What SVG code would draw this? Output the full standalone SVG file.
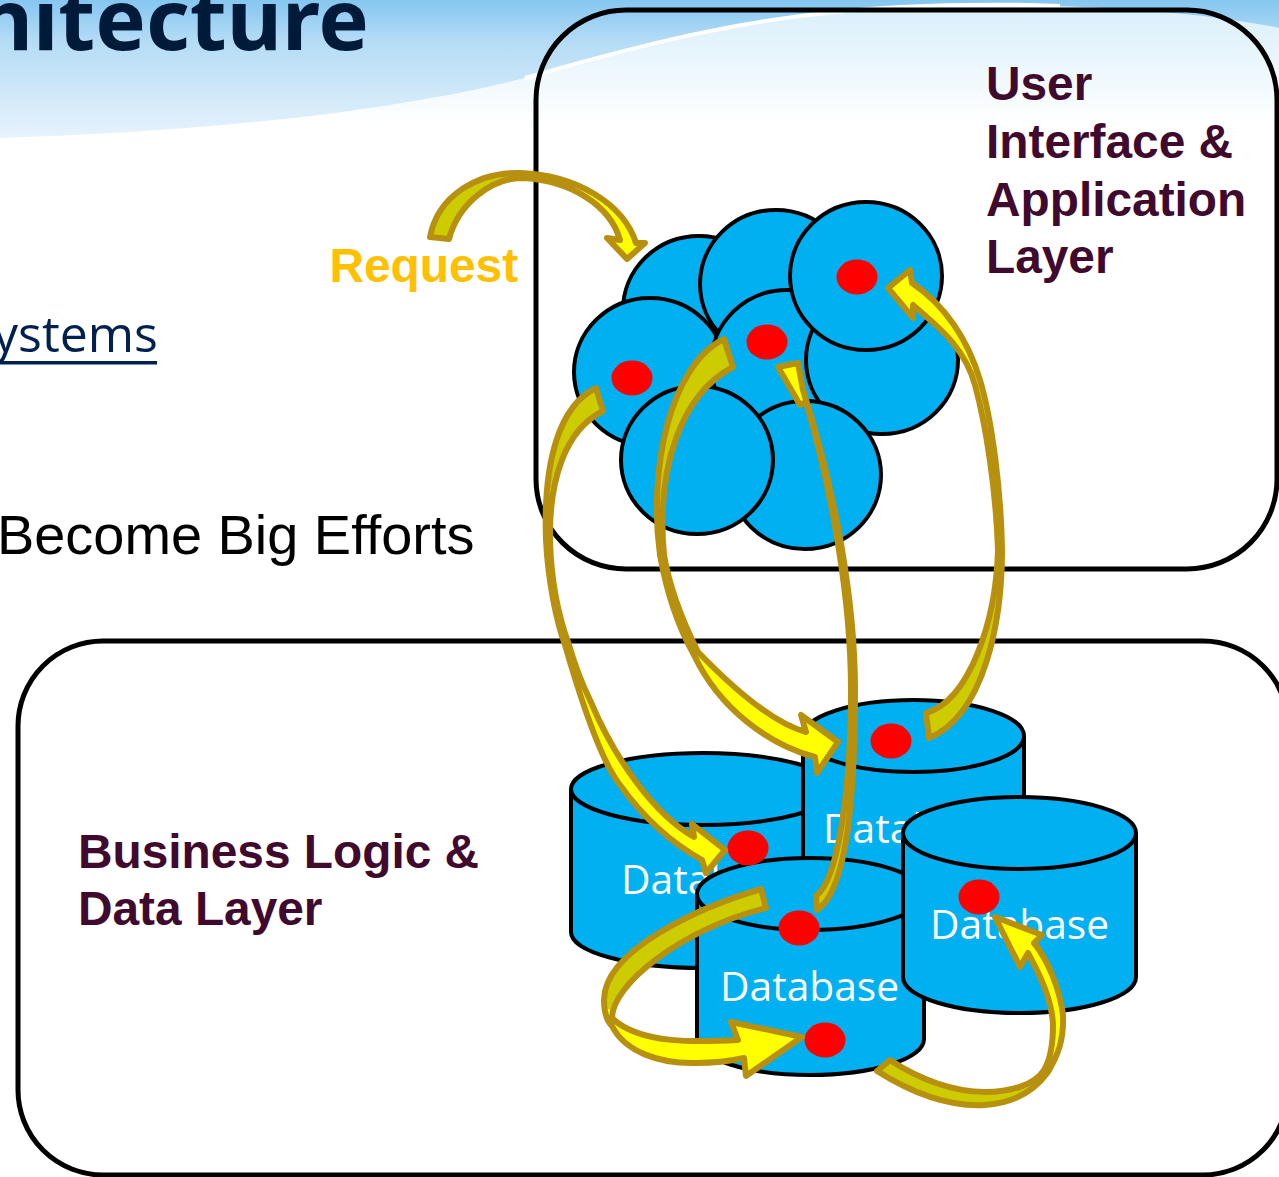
<svg xmlns="http://www.w3.org/2000/svg" width="1279" height="1177" viewBox="0 0 1279 1177">
<style>
.box{fill:none;stroke:#000;stroke-width:5}
.c{fill:#00b0f0;stroke:#000;stroke-width:4}
.dot{fill:#f00}
.t{font-family:"Liberation Sans",Arial,sans-serif;font-weight:700;font-size:47.8px;fill:#3f0a2e}
.db{font-family:"Open Sans","Noto Sans",sans-serif;font-size:40px;fill:#fff}
.arrow{stroke:#b8900f;stroke-width:6;stroke-linejoin:round}
</style>
<defs>
<linearGradient id="sky" gradientUnits="userSpaceOnUse" x1="0" y1="0" x2="0" y2="138"><stop offset="0" stop-color="#85c6f0"/><stop offset="0.3" stop-color="#b5dcf6"/><stop offset="1" stop-color="#e6f3fc"/></linearGradient>
<linearGradient id="glow" gradientUnits="userSpaceOnUse" x1="0" y1="15" x2="0" y2="125"><stop offset="0" stop-color="#dcf0fb"/><stop offset="1" stop-color="#ffffff"/></linearGradient>
<linearGradient id="a1" x1="0" y1="0" x2="1" y2="0"><stop offset="0.47" stop-color="#cccc00"/><stop offset="0.47" stop-color="#ffff00"/></linearGradient>
<linearGradient id="a2" x1="0" y1="0" x2="0" y2="1"><stop offset="0.5" stop-color="#cccc00"/><stop offset="0.5" stop-color="#ffff00"/></linearGradient>
<linearGradient id="a4" x1="0" y1="0" x2="0" y2="1"><stop offset="0.5" stop-color="#ffff00"/><stop offset="0.5" stop-color="#cccc00"/></linearGradient>
<linearGradient id="a6" x1="0" y1="0" x2="0" y2="1"><stop offset="0.64" stop-color="#cccc00"/><stop offset="0.64" stop-color="#ffff00"/></linearGradient>
<linearGradient id="a7" gradientUnits="userSpaceOnUse" x1="1048" y1="1072" x2="996" y2="1220"><stop offset="0" stop-color="#ffff00"/><stop offset="0" stop-color="#cccc00"/></linearGradient>
</defs>
<rect width="1279" height="1177" fill="#fff"/>
<path d="M0 138C250 130 420 105 525 78C650 42 760 14 900 7C1050 2 1180 8 1279 28V135H0Z" fill="url(#glow)"/>
<path d="M0 0H1279V28C1180 8 1050 2 900 7C760 14 650 42 525 78C420 105 250 130 0 138Z" fill="url(#sky)"/>
<path d="M525 78C650 42 760 14 900 7C960 4 1010 4 1060 6" fill="none" stroke="#fff" stroke-width="4"/>
<text x="369" y="50" text-anchor="end" font-family="'Noto Sans','Open Sans',sans-serif" font-weight="700" font-size="85" fill="#001a3a">hitecture</text>
<text x="-7" y="352" font-family="'Open Sans','Noto Sans',sans-serif" font-size="50" fill="#002050">ystems</text>
<rect x="0" y="361" width="157" height="3.500" fill="#002050"/>
<text x="-3" y="554" font-family="'Liberation Sans',Arial,sans-serif" font-size="55.900" fill="#000">Become Big Efforts</text>

<g id="ui-layer"><rect class="box" x="536" y="10" width="741" height="559" rx="90" ry="90"/>
<text class="t" x="986" y="100">User</text><text class="t" x="986" y="158">Interface &amp;</text><text class="t" x="986" y="216">Application</text><text class="t" x="986" y="273">Layer</text></g>
<g id="data-layer"><rect class="box" x="18" y="641" width="1270" height="534" rx="85" ry="85"/>
<text class="t" x="78" y="868">Business Logic &amp;</text><text class="t" x="78" y="925">Data Layer</text></g>
<text id="request" x="329.500" y="282" font-family="'Liberation Sans',Arial,sans-serif" font-weight="700" font-size="47.800" fill="#ffc000">Request</text>

<g id="server-1"><ellipse class="c" cx="699" cy="310" rx="76" ry="74"/></g>
<g id="server-2"><ellipse class="c" cx="776" cy="284" rx="76" ry="74"/></g>
<g id="server-3"><ellipse class="c" cx="650" cy="372" rx="76" ry="74"/></g>
<g id="server-4"><ellipse class="c" cx="787" cy="364" rx="76" ry="74"/></g>
<g id="server-5"><ellipse class="c" cx="882" cy="360" rx="76" ry="74"/></g>
<g id="server-6"><ellipse class="c" cx="866" cy="276" rx="76" ry="74"/></g>
<g id="server-7"><ellipse class="c" cx="805" cy="475" rx="76" ry="74"/></g>
<g id="server-8"><ellipse class="c" cx="697" cy="460" rx="76" ry="74"/></g>

<g id="db-left"><path class="c" d="M571 789V932C571 952 630 968 703 968S835 952 835 932V789"/><ellipse class="c" cx="703" cy="789" rx="132" ry="36"/><text class="db" x="621" y="894" textLength="179" lengthAdjust="spacingAndGlyphs">Database</text></g>
<g id="db-back"><path class="c" d="M803 736V880C803 900 852 916 913 916S1024 900 1024 880V736"/><ellipse class="c" cx="913.500" cy="736" rx="110.500" ry="36"/><text class="db" x="823" y="843" textLength="179" lengthAdjust="spacingAndGlyphs">Database</text></g>
<g id="db-front"><path class="c" d="M697 894V1039C697 1059 748 1075 810 1075S924 1059 924 1039V894"/><ellipse class="c" cx="810.500" cy="894" rx="113.500" ry="36"/><text class="db" x="720" y="1001" textLength="179" lengthAdjust="spacingAndGlyphs">Database</text></g>
<g id="db-right"><path class="c" d="M903 833V977C903 997 955 1013 1019.500 1013S1136 997 1136 977V833"/><ellipse class="c" cx="1019.500" cy="833" rx="116.500" ry="36"/><text class="db" x="930" y="939" textLength="179" lengthAdjust="spacingAndGlyphs">Database</text></g>

<g id="markers">
<ellipse class="dot" cx="857" cy="277" rx="20.500" ry="17.500"/><ellipse class="dot" cx="767" cy="342" rx="20.500" ry="17.500"/><ellipse class="dot" cx="632" cy="378" rx="20.500" ry="17.500"/>
<ellipse class="dot" cx="891" cy="741" rx="20.500" ry="17.500"/><ellipse class="dot" cx="748" cy="848" rx="20.500" ry="17.500"/><ellipse class="dot" cx="799" cy="928" rx="20.500" ry="17.500"/><ellipse class="dot" cx="825" cy="1040" rx="20.500" ry="17.500"/><ellipse class="dot" cx="979" cy="897" rx="20.500" ry="17.500"/>
</g>

<g id="connectors">
<path class="arrow" fill="url(#a1)" d="M430 237C438 195 478 172 520 173C578 175 624 205 636 243L645 243L627 259L607 238L620 240C610 205 570 180 522 178C490 178 458 205 449 239Z"/>
<path class="arrow" fill="url(#a2)" d="M596 388C560 405 543 460 546 540C548 580 556 620 565 645C578 690 600 760 620 785C645 820 675 845 702 860L706 873L725 850L692 824L694 837C655 815 615 760 590 700C580 680 575 665 569 645C558 615 551 580 550 540C549 480 565 430 603 411Z"/>
<path class="arrow" fill="url(#a2)" d="M724 339C670 365 648 470 660 555C668 600 680 630 694 655C720 710 770 745 815 757L817 773L838 742L801 715L806 732C770 722 725 680 698 652C682 620 670 590 664 555C656 470 680 395 733 367Z"/>
<path class="arrow" fill="url(#a4)" d="M778 367L798 363L803 390C835 490 855 600 855 690C855 790 848 890 817 910L816 896C838 880 851 790 851 690C851 600 832 490 806 402L800 405Z"/>
<path class="arrow" fill="url(#a4)" d="M888 288L910 270L912 283C945 305 968 340 980 380C992 420 1001 490 1002 550C1002 620 985 715 929 738L926 713C970 700 996 620 998 550C996 490 986 425 975 385C964 345 935 325 913 305L913 318Z"/>
<path class="arrow" fill="url(#a6)" d="M761 889C700 907 604 950 604 1000C604 1010 606 1020 612 1026C625 1052 660 1064 696 1063C715 1063 735 1060 744 1058L746 1076L802 1037L731 1022L738 1040C700 1042 640 1045 612 1018C612 985 680 930 766 908Z"/>
<path class="arrow" fill="url(#a7)" d="M877 1071C915 1095 950 1107 985 1105C1015 1103 1035 1090 1048 1072C1058 1055 1064 1040 1063 1015C1060 990 1048 960 1034 943L1042 935L995 917L1020 967L1028 953C1040 975 1052 1000 1053 1025C1053 1045 1050 1060 1044 1070C1035 1085 1010 1092 985 1092C955 1092 920 1080 890 1060Z"/>
</g>
</svg>
